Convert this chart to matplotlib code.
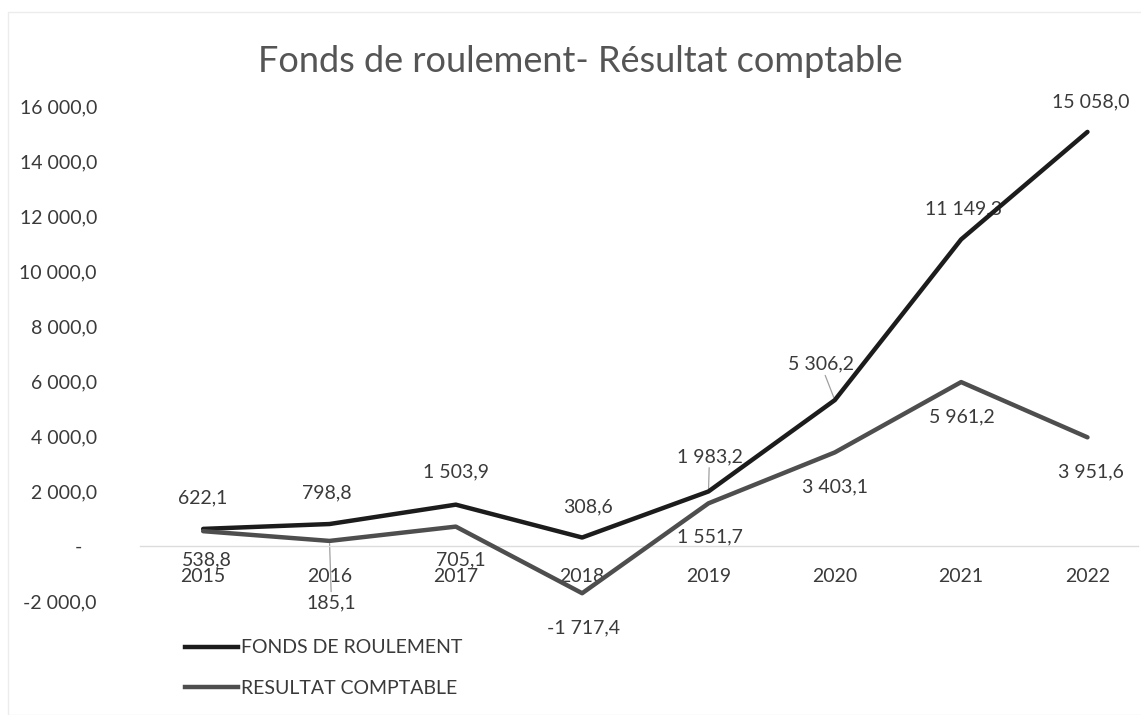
import matplotlib
matplotlib.use('Agg')
import matplotlib.pyplot as plt
from matplotlib.lines import Line2D
from matplotlib.patches import Rectangle

plt.rcParams['font.family'] = ['Lato', 'DejaVu Sans']

years = ['2015', '2016', '2017', '2018', '2019', '2020', '2021', '2022']
fonds_roulement = [622.1, 798.8, 1503.9, 308.6, 1983.2, 5306.2, 11149.3, 15058.0]
resultat_comptable = [538.8, 185.1, 705.1, -1717.4, 1551.7, 3403.1, 5961.2, 3951.6]
series_names = ['FONDS DE ROULEMENT', 'RESULTAT COMPTABLE']
title = 'Fonds de roulement- Résultat comptable'

# label offsets in pixels (dx, dy), leader line flag
fr_off = [(0, 31), (-3, 31), (0, 33), (6, 31), (1, 35), (-14, 36), (2, 31), (3, 30)]
fr_lead = [False, False, False, False, True, True, False, False]
rc_off = [(4, -29), (2, -62), (5, -33), (1, -35), (1, -34), (0, -34), (1, -35), (3, -35)]
rc_lead = [False, True, False, False, False, False, False, False]

W, H = 1141, 715
fig = plt.figure(figsize=(W / 100, H / 100), dpi=100)
fig.patches.append(Rectangle((8 / W, 0), 1, 1 - 12 / H, transform=fig.transFigure,
                             fill=False, edgecolor='#ececec', lw=1))

ax = fig.add_axes([140 / W, (H - 601) / H, 998 / W, 495 / H])
x = list(range(len(years)))

c_fr = '#1c1c1c'
c_rc = '#4e4e4e'
txt_c = '#3a3a3a'

ax.plot(x, fonds_roulement, color=c_fr, lw=3.2, zorder=4,
        solid_capstyle='round', solid_joinstyle='round')
ax.plot(x, resultat_comptable, color=c_rc, lw=3.2, zorder=4,
        solid_capstyle='round', solid_joinstyle='round')


def fmt(v):
    s = '{:,.1f}'.format(v)
    return s.replace(',', ' ').replace('.', ',')


def put_labels(vals, offs, leads):
    for i, v in enumerate(vals):
        kw = {}
        if leads[i]:
            kw['arrowprops'] = dict(arrowstyle='-', color='#a0a0a0', lw=0.9,
                                    shrinkA=0, shrinkB=2)
        ax.annotate(fmt(v), (i, v), xytext=offs[i], textcoords='offset pixels',
                    ha='center', va='center', fontsize=14, color=txt_c,
                    zorder=2, **kw)


put_labels(fonds_roulement, fr_off, fr_lead)
put_labels(resultat_comptable, rc_off, rc_lead)

ax.set_xlim(-0.5, 7.4)
ax.set_ylim(-2000, 16000)
yt = list(range(-2000, 16001, 2000))
ax.set_yticks(yt)
ax.set_yticklabels(['-   ' if t == 0 else fmt(t) for t in yt])
ax.set_xticks(x)
ax.set_xticklabels(years)

for s in ['top', 'right', 'left']:
    ax.spines[s].set_visible(False)
ax.spines['bottom'].set_position(('data', 0))
ax.spines['bottom'].set_color('#dcdcdc')
ax.spines['bottom'].set_linewidth(1)
ax.tick_params(axis='both', length=0, labelsize=14, labelcolor=txt_c)
ax.tick_params(axis='x', pad=16)
ax.tick_params(axis='y', pad=31)

fig.text(580 / W, 1 - 61 / H, title, ha='center', va='center',
         fontsize=26, color='#555555')

handles = [Line2D([], [], color=c_fr, lw=3.2), Line2D([], [], color=c_rc, lw=3.2)]
fig.legend(handles, series_names, loc='center left',
           bbox_to_anchor=(185 / W, 1 - 668 / H), frameon=False,
           fontsize=14, labelcolor=txt_c, handlelength=2.7, handletextpad=0.2,
           labelspacing=1.2, borderpad=0, borderaxespad=0)

fig.savefig('out.png', dpi=100)
